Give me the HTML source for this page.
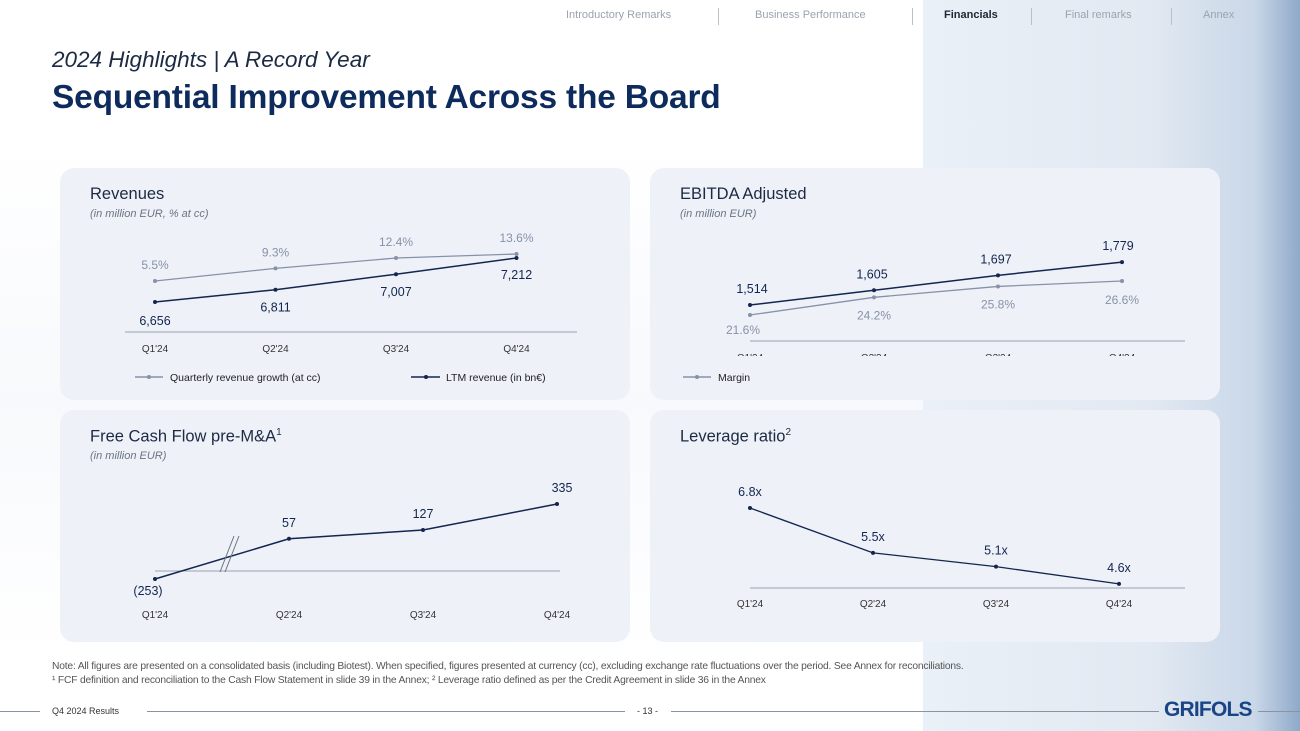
<!DOCTYPE html>
<html><head><meta charset="utf-8">
<style>
*{margin:0;padding:0;box-sizing:border-box}
body{width:1300px;height:731px;position:relative;overflow:hidden;background:#fff;font-family:"Liberation Sans",sans-serif;}
.bgright{position:absolute;left:923px;top:0;width:377px;height:731px;background:linear-gradient(90deg,#eaf0f7 0%,#e2e9f2 60%,#c9d7e8 88%,#8fa9c9 100%);}
.bgfade{position:absolute;left:0;top:140px;width:923px;height:520px;background:linear-gradient(180deg,#fff,#f7f9fc 50%,#fff)}
.nav{position:absolute;top:9px;font-size:11px;color:#9aa3af;white-space:nowrap}
.sep{position:absolute;top:8px;width:1px;height:17px;background:#b8c0ca}
.card{position:absolute;background:#eef2f8;border-radius:14px}
.t{position:absolute;white-space:nowrap}
svg{position:absolute;left:0;top:0}
</style></head><body>
<div class="bgfade"></div>
<div class="bgright"></div>

<div class="nav" style="left:566px">Introductory Remarks</div>
<div class="sep" style="left:718px"></div>
<div class="nav" style="left:755px">Business Performance</div>
<div class="sep" style="left:912px"></div>
<div class="nav" style="left:944px;color:#1e2633;font-weight:bold">Financials</div>
<div class="sep" style="left:1031px"></div>
<div class="nav" style="left:1065px">Final remarks</div>
<div class="sep" style="left:1171px"></div>
<div class="nav" style="left:1203px">Annex</div>

<div class="t" style="left:52px;top:47px;font-size:22.5px;font-style:italic;color:#1c2a44">2024 Highlights | A Record Year</div>
<div class="t" style="left:52px;top:79px;font-size:33.5px;font-weight:bold;color:#0e2b5e;letter-spacing:-0.2px">Sequential Improvement Across the Board</div>

<div class="card" style="left:60px;top:168px;width:570px;height:232px"></div>
<div class="card" style="left:650px;top:168px;width:570px;height:232px"></div>
<div class="card" style="left:60px;top:410px;width:570px;height:232px"></div>
<div class="card" style="left:650px;top:410px;width:570px;height:232px"></div>

<div class="t" style="left:90px;top:185px;font-size:16.5px;color:#1c2a44">Revenues</div>
<div class="t" style="left:90px;top:208px;font-size:11px;font-style:italic;color:#6a7383">(in million EUR, % at cc)</div>
<div class="t" style="left:680px;top:185px;font-size:16.5px;color:#1c2a44">EBITDA Adjusted</div>
<div class="t" style="left:680px;top:208px;font-size:11px;font-style:italic;color:#6a7383">(in million EUR)</div>
<div class="t" style="left:90px;top:427px;font-size:16.5px;color:#1c2a44">Free Cash Flow pre-M&amp;A<sup style="font-size:10px">1</sup></div>
<div class="t" style="left:90px;top:450px;font-size:11px;font-style:italic;color:#6a7383">(in million EUR)</div>
<div class="t" style="left:680px;top:427px;font-size:16.5px;color:#1c2a44">Leverage ratio<sup style="font-size:10px">2</sup></div>

<svg id="charts" width="1300" height="731"></svg>

<div class="t" style="left:52px;top:661px;font-size:10.3px;color:#555;letter-spacing:-0.2px">Note: All figures are presented on a consolidated basis (including Biotest). When specified, figures presented at currency (cc), excluding exchange rate fluctuations over the period. See Annex for reconciliations.</div>
<div class="t" style="left:52px;top:675px;font-size:10.3px;color:#555;letter-spacing:-0.2px">¹ FCF definition and reconciliation to the Cash Flow Statement in slide 39 in the Annex; ² Leverage ratio defined as per the Credit Agreement in slide 36 in the Annex</div>

<div style="position:absolute;left:0;top:711px;width:40px;height:1px;background:#8a93a0"></div>
<div class="t" style="left:52px;top:706px;font-size:9px;color:#333">Q4 2024 Results</div>
<div style="position:absolute;left:147px;top:711px;width:478px;height:1px;background:#8a93a0"></div>
<div class="t" style="left:637px;top:706px;font-size:9px;color:#333">- 13 -</div>
<div style="position:absolute;left:671px;top:711px;width:488px;height:1px;background:#8a93a0"></div>
<div class="t" style="left:1164px;top:698px;font-size:21px;font-weight:bold;color:#1a4585;letter-spacing:-0.8px">GRIFOLS</div>
<div style="position:absolute;left:1258px;top:711px;width:42px;height:1px;background:#8a93a0"></div>

<script>
const quarters = ["Q1'24","Q2'24","Q3'24","Q4'24"];
const revLTM = [6656, 6811, 7007, 7212];
const revGrowth = [5.5, 9.3, 12.4, 13.6];
const ebitda = [1514, 1605, 1697, 1779];
const ebitdaMargin = [21.6, 24.2, 25.8, 26.6];
const fcf = [-253, 57, 127, 335];
const leverage = [6.8, 5.5, 5.1, 4.6];

const NS = "http://www.w3.org/2000/svg";
const svg = document.getElementById('charts');
const DARK = "#13264f", LIGHT = "#8791a8";
function mk(tag, attrs){const e=document.createElementNS(NS,tag);for(const k in attrs)e.setAttribute(k,attrs[k]);svg.appendChild(e);return e;}
function txt(x,y,s,size,color,name){const e=mk('text',{x:x,y:y,'font-size':size,fill:color,'text-anchor':'middle','font-family':'Liberation Sans, sans-serif'});e.textContent=s;


return e;}
function axis(x1,x2,y,name){const e=mk('line',{x1:x1,x2:x2,y1:y,y2:y,stroke:'#9aa3b0','stroke-width':1});

}
function series(xs,ys,color,w,name){
  const p=mk('polyline',{points:xs.map((x,i)=>x+','+ys[i]).join(' '),fill:'none',stroke:color,'stroke-width':w});
  
  
  xs.forEach((x,i)=>{const c=mk('circle',{cx:x,cy:ys[i],r:2,fill:color});
    
    });
}
function ticks(xs,y,name){quarters.forEach((q,i)=>txt(xs[i],y,q,10,'#333',name));}
function fmt(v){return v.toLocaleString('en-US');}

// Revenues
const rx = i => 155 + i*120.5;
const ryL = v => 302 - (v-6656)*0.0791;
const ryG = v => 281 - (v-5.5)*3.33;
const rxs = quarters.map((q,i)=>rx(i));
axis(125,577,332,'revenues-x-axis');
series(rxs, revGrowth.map(ryG), LIGHT, 1.3, 'revenue-growth');
series(rxs, revLTM.map(ryL), DARK, 1.5, 'ltm-revenue');
revGrowth.forEach((v,i)=>txt(rxs[i], ryG(v)-12, v.toFixed(1)+'%', 12, LIGHT, 'revenue-growth-label'));
revLTM.forEach((v,i)=>txt(rxs[i], ryL(v)+(i==0?23:i==3?21:22), fmt(v), 12.5, DARK, 'ltm-revenue-label'));
ticks(rxs,352,'revenues-x-tick');
mk('line',{x1:135,x2:163,y1:377,y2:377,stroke:LIGHT,'stroke-width':1.5});
mk('circle',{cx:149,cy:377,r:2,fill:LIGHT});
const l1=txt(170,381,'Quarterly revenue growth (at cc)',10.5,'#222','legend-revenue-growth');l1.setAttribute('text-anchor','start');
mk('line',{x1:411,x2:440,y1:377,y2:377,stroke:DARK,'stroke-width':1.5});
mk('circle',{cx:426,cy:377,r:2,fill:DARK});
const l2=txt(446,381,'LTM revenue (in bn€)',10.5,'#222','legend-ltm-revenue');l2.setAttribute('text-anchor','start');

// EBITDA
const ex = i => 750 + i*124;
const eyE = v => 305 - (v-1514)*0.162;
const eyM = v => 315 - (v-21.6)*6.8;
const exs = quarters.map((q,i)=>ex(i));
axis(750,1185,341,'ebitda-x-axis');
series(exs, ebitdaMargin.map(eyM), LIGHT, 1.3, 'ebitda-margin');
series(exs, ebitda.map(eyE), DARK, 1.5, 'ebitda');
ebitda.forEach((v,i)=>txt(exs[i]+(i==0?2:i==3?-4:-2), eyE(v)-12, fmt(v), 12.5, DARK, 'ebitda-label'));
ebitdaMargin.forEach((v,i)=>txt(exs[i]+(i==0?-7:0), eyM(v)+(i==0?19:i==3?23:22), v.toFixed(1)+'%', 12, LIGHT, 'ebitda-margin-label'));
const clip=mk('clipPath',{id:'ec'});const cr=document.createElementNS(NS,'rect');cr.setAttribute('x',650);cr.setAttribute('y',340);cr.setAttribute('width',570);cr.setAttribute('height',16);clip.appendChild(cr);
quarters.forEach((q,i)=>{const t=txt(exs[i],361,q,10,'#333','ebitda-x-tick');t.setAttribute('clip-path','url(#ec)');});
mk('line',{x1:683,x2:711,y1:377,y2:377,stroke:LIGHT,'stroke-width':1.5});
mk('circle',{cx:697,cy:377,r:2,fill:LIGHT});
const l3=txt(718,381,'Margin',10.5,'#222','legend-margin');l3.setAttribute('text-anchor','start');

// FCF (broken axis)
const fx = i => 155 + i*134;
const FAX = 571;
const fy = v => v >= 0 ? 545.9 - v*0.125 : FAX - v*0.0316;
const fxs = quarters.map((q,i)=>fx(i));
axis(155,560,FAX,'fcf-x-axis');
series(fxs, fcf.map(fy), DARK, 1.5, 'fcf');
mk('line',{x1:220,x2:234,y1:572,y2:536,stroke:'#6a7383','stroke-width':1});
mk('line',{x1:225,x2:239,y1:572,y2:536,stroke:'#6a7383','stroke-width':1});
fcf.forEach((v,i)=>txt(fxs[i]+(i==0?-7:i==3?5:0), v<0? fy(v)+16 : fy(v)-12, v<0?'('+Math.abs(v)+')':fmt(v), 12.5, DARK, 'fcf-label'));
ticks(fxs,618,'fcf-x-tick');

// Leverage
const lx = i => 750 + i*123;
const ly = v => 508 + (6.8-v)*34.5;
const lxs = quarters.map((q,i)=>lx(i));
axis(750,1185,588,'leverage-x-axis');
series(lxs, leverage.map(ly), DARK, 1.3, 'leverage');
leverage.forEach((v,i)=>txt(lxs[i], ly(v)-12, v.toFixed(1)+'x', 12.5, DARK, 'leverage-label'));
ticks(lxs,607,'leverage-x-tick');
</script>
</body></html>
